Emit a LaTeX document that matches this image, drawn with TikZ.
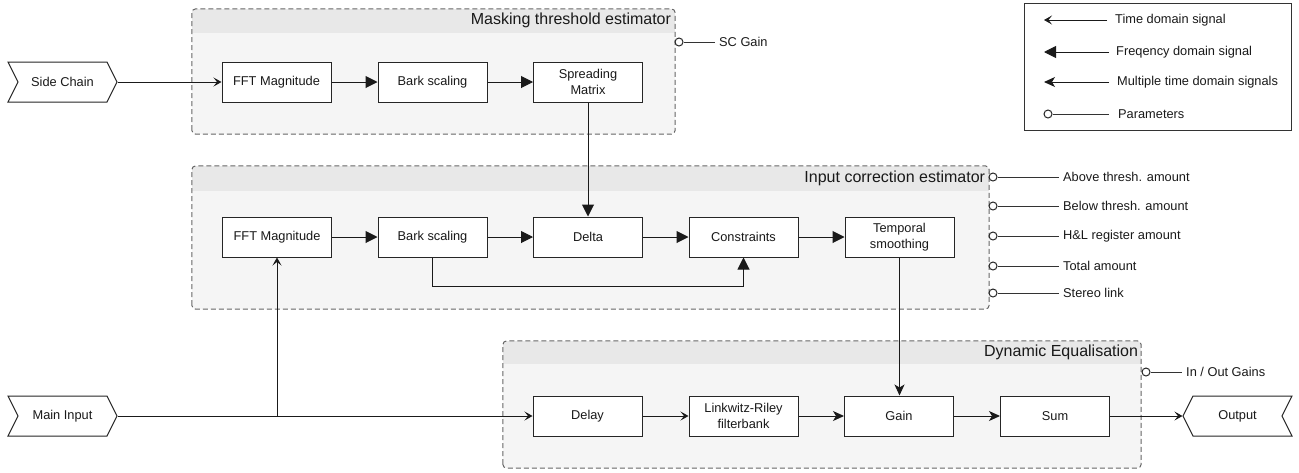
\documentclass[tikz,border=0pt]{standalone}
\usepackage{fontspec}
\setmainfont{Liberation Sans}
\usetikzlibrary{arrows.meta,shapes.symbols,calc}
\definecolor{grpfill}{HTML}{F5F5F5}
\definecolor{hdrfill}{HTML}{E8E8E8}
\definecolor{grpline}{HTML}{666666}
\definecolor{lnc}{HTML}{1A1A1A}
\begin{document}
\begin{tikzpicture}[x=1pt,y=-1pt,
  every node/.style={font=\fontsize{12.8}{16}\selectfont, text=black!90},
  blk/.style={draw=black!85, line width=1pt, fill=white, minimum width=109pt, minimum height=40pt, inner sep=1pt, align=center},
  grp/.style={fill=grpfill, inner sep=0pt, rounded corners=4pt},
  grpborder/.style={draw=grpline, line width=1pt, dash pattern=on 5pt off 3pt, rounded corners=4pt},
  ttl/.style={font=\fontsize{16}{19}\selectfont, anchor=east, inner sep=0pt},
  io/.style={signal, draw=black!85, line width=1pt, fill=white, signal pointer angle=127, minimum width=109pt, minimum height=40pt, inner sep=1pt},
  conn/.style={draw=lnc, line width=1pt},
  tsig/.style={conn, -{Stealth[length=8pt,width=9pt,inset=3.5pt]}},
  fsig/.style={conn, -{Triangle[length=12pt,width=12pt]}},
  msig/.style={conn, -{Stealth[length=11pt,width=10pt,inset=3pt]}},
  pcirc/.style={circle, draw=black!85, fill=white, line width=1pt, minimum size=8pt, inner sep=0pt},
  pline/.style={draw=black!80, line width=1pt},
  ptxt/.style={anchor=west, inner ysep=0pt, inner xsep=4pt},
  legtxt/.style={anchor=west, inner sep=0pt}]
\useasboundingbox (0,0) rectangle (1299,472);

% ---------- groups ----------
\node[grp, minimum width=483pt, minimum height=125pt] (mte) at (433.5,71.5) {};
\begin{scope}
\clip[rounded corners=4pt] (mte.south west) rectangle (mte.north east);
\fill[hdrfill] (mte.north west) rectangle ([yshift=-24pt]mte.north east);
\end{scope}
\draw[grpborder] (mte.south west) rectangle (mte.north east);
\node[ttl] (mtet) at ([xshift=-4pt,yshift=-12pt]mte.north east) {Masking threshold estimator};

\node[grp, minimum width=797pt, minimum height=143pt] (ice) at (590.5,237.5) {};
\begin{scope}
\clip[rounded corners=4pt] (ice.south west) rectangle (ice.north east);
\fill[hdrfill] (ice.north west) rectangle ([yshift=-25pt]ice.north east);
\end{scope}
\draw[grpborder] (ice.south west) rectangle (ice.north east);
\node[ttl] (icet) at ([xshift=-4pt,yshift=-13pt]ice.north east) {Input correction estimator};

\node[grp, minimum width=638pt, minimum height=127pt] (deq) at (822,404.5) {};
\begin{scope}
\clip[rounded corners=4pt] (deq.south west) rectangle (deq.north east);
\fill[hdrfill] (deq.north west) rectangle ([yshift=-23pt]deq.north east);
\end{scope}
\draw[grpborder] (deq.south west) rectangle (deq.north east);
\node[ttl] (deqt) at ([xshift=-3pt,yshift=-12pt]deq.north east) {Dynamic Equalisation};

% ---------- blocks ----------
\node[blk] (fft1) at (276.5,82) {FFT Magnitude};
\node[blk] (bark1) at (432.5,82) {Bark scaling};
\node[blk] (spm) at (588,82) {Spreading\\Matrix};
\node[blk] (fft2) at (277,237) {FFT Magnitude};
\node[blk] (bark2) at (432.5,237) {Bark scaling};
\node[blk] (delta) at (588,237) {Delta};
\node[blk] (cons) at (743.5,237) {Constraints};
\node[blk] (tsm) at (899.5,237) {Temporal\\smoothing};
\node[blk] (dly) at (587.5,416) {Delay};
\node[blk] (lrf) at (743.5,416) {Linkwitz-Riley\\filterbank};
\node[blk] (gain) at (899,416) {Gain};
\node[blk] (sum) at (1055,416) {Sum};
\node[io, signal to=east, signal from=west] (sc) at (62.5,82) {Side Chain};
\node[io, signal to=east, signal from=west] (mi) at (62.5,416) {Main Input};
\node[io, signal to=west, signal from=east] (out) at (1237.5,416) {Output};

% ---------- connectors ----------
\draw[tsig] (sc.east) -- (fft1.west);
\draw[fsig] (fft1) -- (bark1);
\draw[fsig] (bark1) -- (spm);
\draw[fsig] (spm) -- (delta);
\draw[fsig] (fft2) -- (bark2);
\draw[fsig] (bark2) -- (delta);
\draw[fsig] (delta) -- (cons);
\draw[fsig] (cons) -- (tsm);
\draw[fsig] (bark2.south) -- ++(0,29) -| (cons.south);
\coordinate (br) at (fft2.south |- mi.east);
\draw[tsig] (mi.east) -- (dly.west);
\draw[tsig] (br) -- (fft2.south);
\draw[tsig] (dly) -- (lrf);
\draw[msig] (lrf) -- (gain);
\draw[msig] (gain) -- (sum);
\draw[tsig] (sum) -- (out.west);
\draw[msig] (tsm.south) -- (tsm.south |- gain.north);

% ---------- parameters ----------
\node[pcirc] (scg) at (679,42) {};
\node[ptxt] (scgt) at (715,42) {SC Gain};
\draw[pline] (scg) -- (scgt);

\node[pcirc] (pa) at (993,177) {};
\node[ptxt] (pat) at (1059,177) {Above thresh. amount};
\draw[pline] (pa) -- (pat);
\node[pcirc] (pb) at (993,206) {};
\node[ptxt] (pbt) at (1059,206) {Below thresh. amount};
\draw[pline] (pb) -- (pbt);
\node[pcirc] (pc) at (993,236) {};
\node[ptxt] (pct) at (1059,236) {H\&L register amount};
\draw[pline] (pc) -- (pct);
\node[pcirc] (pd) at (993,266) {};
\node[ptxt] (pdt) at (1059,266) {Total amount};
\draw[pline] (pd) -- (pdt);
\node[pcirc] (pe) at (993,293) {};
\node[ptxt] (pet) at (1059,293) {Stereo link};
\draw[pline] (pe) -- (pet);

\node[pcirc] (pg) at (1146,372) {};
\node[ptxt] (pgt) at (1182,372) {In / Out Gains};
\draw[pline] (pg) -- (pgt);

% ---------- legend ----------
\node[draw=black!80, line width=1pt, minimum width=267pt, minimum height=127pt, inner sep=0pt] (leg) at (1157.5,66.5) {};
\coordinate (l1a) at (1107,20); \coordinate (l1b) at (1044,20);
\draw[tsig] (l1a) -- (l1b);
\node[legtxt] (l1t) at (1115,20) {Time domain signal};
\coordinate (l2a) at (1109,52); \coordinate (l2b) at (1044,52);
\draw[fsig] (l2a) -- (l2b);
\node[legtxt] (l2t) at (1116,52) {Freqency domain signal};
\coordinate (l3a) at (1109,82); \coordinate (l3b) at (1044,82);
\draw[msig] (l3a) -- (l3b);
\node[legtxt] (l3t) at (1117,82) {Multiple time domain signals};
\node[pcirc] (l4c) at (1048,114) {};
\coordinate (l4a) at (1109,114);
\draw[pline] (l4c) -- (l4a);
\node[legtxt] (l4t) at (1118,114) {Parameters};
\end{tikzpicture}
\end{document}
